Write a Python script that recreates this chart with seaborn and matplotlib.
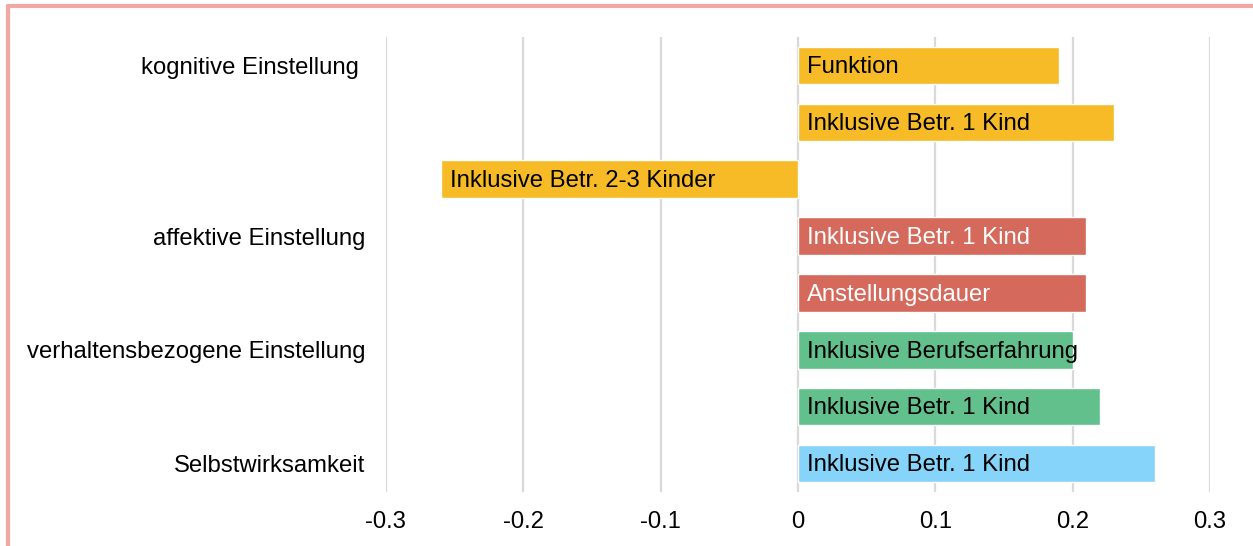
import pandas as pd
import numpy as np
import seaborn as sns
import matplotlib.pyplot as plt
from matplotlib.lines import Line2D

# data
bar_labels = ['Funktion', 'Inklusive Betr. 1 Kind', 'Inklusive Betr. 2-3 Kinder',
              'Inklusive Betr. 1 Kind', 'Anstellungsdauer',
              'Inklusive Berufserfahrung', 'Inklusive Betr. 1 Kind',
              'Inklusive Betr. 1 Kind']
values = [0.19, 0.23, -0.26, 0.21, 0.21, 0.20, 0.22, 0.26]
groups = ['kognitiv', 'kognitiv', 'kognitiv', 'affektiv', 'affektiv',
          'verhalten', 'verhalten', 'selbst']
row_ticks = ['kognitive Einstellung ', '', '', 'affektive Einstellung', '',
             'verhaltensbezogene Einstellung', '', 'Selbstwirksamkeit']
x_ticks = [-0.3, -0.2, -0.1, 0, 0.1, 0.2, 0.3]
x_ticklabels = ['-0.3', '-0.2', '-0.1', '0', '0.1', '0.2', '0.3']

colors = {'kognitiv': '#F6BB27', 'affektiv': '#D4695C',
          'verhalten': '#62C08C', 'selbst': '#87D4FA'}
text_colors = {'kognitiv': 'black', 'affektiv': 'white',
               'verhalten': 'black', 'selbst': 'black'}

df = pd.DataFrame({'row': [str(i) for i in range(len(values))],
                   'value': values, 'group': groups, 'label': bar_labels})

sns.set_theme(style='white')
plt.rcParams['font.family'] = ['Liberation Sans', 'DejaVu Sans']

fig = plt.figure(figsize=(12.53, 5.46), dpi=100)
ax = fig.add_axes([0.308, 0.099, 0.6577, 0.833])

sns.barplot(data=df, x='value', y='row', hue='group', palette=colors,
            dodge=False, legend=False, width=0.66, saturation=1, ax=ax,
            orient='h')

ax.set_xlim(-0.3, 0.3)
ax.set_xticks(x_ticks)
ax.set_xticklabels(x_ticklabels, fontsize=17.2, color='black')
ax.set_yticks(range(len(row_ticks)))
ax.set_yticklabels(row_ticks, fontsize=17.2, color='black')
ax.tick_params(axis='y', length=0, pad=15)
ax.tick_params(axis='x', length=0, pad=14)
ax.set_xlabel('')
ax.set_ylabel('')
ax.set_axisbelow(True)
ax.xaxis.grid(True, color='#D9D9D9', linewidth=1.6)
for s in ax.spines.values():
    s.set_visible(False)

# labels inside the bars, starting just right of each bar's left end
for i, r in df.iterrows():
    start = min(0, r['value'])
    ax.text(start + 0.0068, i + 0.03, r['label'], va='center', ha='left',
            fontsize=17.2, color=text_colors[r['group']])

# pink frame (top and left edge visible)
fig.add_artist(Line2D([0.0064, 1], [0.989, 0.989], color='#F0A8A4', lw=3,
                      transform=fig.transFigure))
fig.add_artist(Line2D([0.0064, 0.0064], [0, 0.989], color='#F0A8A4', lw=3,
                      transform=fig.transFigure))

fig.savefig('out.png', dpi=100)
